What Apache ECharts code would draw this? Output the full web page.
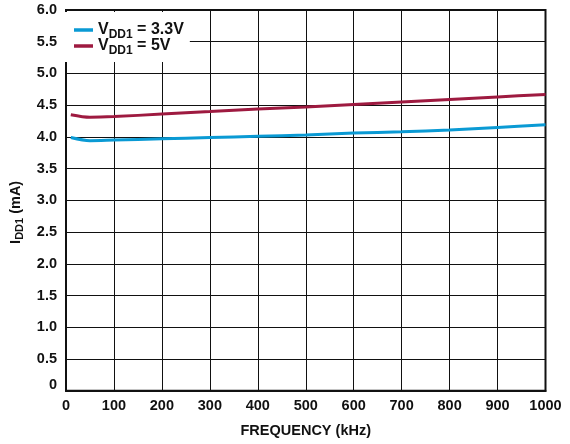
<!DOCTYPE html>
<html>
<head>
<meta charset="utf-8">
<script src="https://cdn.jsdelivr.net/npm/echarts@6/dist/echarts.min.js"></script>
<style>html,body{margin:0;padding:0;background:#fff;}#c{width:570px;height:444px;}</style>
</head>
<body>
<div id="c"></div>
<script>
const freqKHz = [10, 50, 100, 200, 300, 400, 500, 600, 700, 800, 900, 1000];
const idd1_3v3 = [3.99, 3.94, 3.95, 3.97, 3.99, 4.01, 4.03, 4.06, 4.08, 4.11, 4.15, 4.19];
const idd1_5v = [4.35, 4.31, 4.32, 4.36, 4.40, 4.44, 4.47, 4.51, 4.55, 4.59, 4.63, 4.67];
const seriesNames = ['3.3V', '5V'];
const xTicks = [0, 100, 200, 300, 400, 500, 600, 700, 800, 900, 1000];
const yTicks = [0, 0.5, 1.0, 1.5, 2.0, 2.5, 3.0, 3.5, 4.0, 4.5, 5.0, 5.5, 6.0];

const font = 'Arial, "Liberation Sans", sans-serif';
const chart = echarts.init(document.getElementById('c'), null, {renderer: 'canvas'});
const pairs = (ys) => freqKHz.map((f, i) => [f, ys[i]]);

chart.setOption({
  animation: false,
  backgroundColor: '#fff',
  grid: {left: 66, right: 24.5, top: 10, bottom: 53.3, show: true, borderColor: '#111', borderWidth: 2, backgroundColor: 'transparent'},
  legend: {
    orient: 'vertical',
    left: 64,
    top: 12,
    padding: [10, 6, 5, 10],
    itemGap: -3,
    backgroundColor: '#fff',
    icon: 'rect',
    itemWidth: 19,
    itemHeight: 3.5,
    data: seriesNames,
    formatter: (n) => '{v|V}{s|DD1}{v| = ' + n + '}',
    textStyle: {
      fontFamily: font,
      fontWeight: 'bold',
      color: '#111',
      rich: {
        v: {fontSize: 16, fontWeight: 'bold', fontFamily: font, color: '#111', lineHeight: 16, verticalAlign: 'top'},
        s: {fontSize: 12, fontWeight: 'bold', fontFamily: font, color: '#111', lineHeight: 14, padding: [7, 0, 0, 0], verticalAlign: 'top'}
      }
    }
  },
  xAxis: {
    type: 'value',
    min: 0, max: 1000, interval: 100,
    name: 'FREQUENCY (kHz)',
    nameLocation: 'middle',
    nameGap: 33,
    nameTextStyle: {fontFamily: font, fontWeight: 'bold', fontSize: 14.5, color: '#111'},
    axisLine: {show: true, lineStyle: {color: '#111', width: 2}},
    axisTick: {show: false},
    axisLabel: {fontFamily: font, fontWeight: 'bold', fontSize: 14.5, color: '#111', margin: 8,
      formatter: (v) => xTicks.includes(v) ? String(v) : ''},
    splitLine: {show: true, lineStyle: {color: '#111', width: 1}}
  },
  yAxis: {
    type: 'value',
    min: 0, max: 6, interval: 0.5,
    name: '{i|I}{s|DD1}{i| (mA)}',
    nameLocation: 'middle',
    nameGap: 40,
    nameTextStyle: {
      fontFamily: font, fontWeight: 'bold', fontSize: 14, color: '#111',
      padding: [0, 24, 0, 0],
      rich: {
        i: {fontSize: 14.5, fontWeight: 'bold', fontFamily: font, color: '#111', lineHeight: 16, verticalAlign: 'top'},
        s: {fontSize: 11, fontWeight: 'bold', fontFamily: font, color: '#111', lineHeight: 16, padding: [6, 0, 0, 0], verticalAlign: 'top'}
      }
    },
    axisLine: {show: true, lineStyle: {color: '#111', width: 2}},
    axisTick: {show: false},
    axisLabel: {fontFamily: font, fontWeight: 'bold', fontSize: 14.5, color: '#111', margin: 9,
      formatter: (v) => yTicks.includes(v) ? (v === 0 ? '{z|0}' : v.toFixed(1)) : '',
      rich: {z: {fontFamily: font, fontWeight: 'bold', fontSize: 14.5, color: '#111', padding: [0, 0, 12, 0]}}
    },
    splitLine: {show: true, lineStyle: {color: '#111', width: 1}}
  },
  series: [
    {name: seriesNames[0], type: 'line', data: pairs(idd1_3v3), smooth: 0.3, showSymbol: false,
      lineStyle: {color: '#0a9ad4', width: 3}, itemStyle: {color: '#0a9ad4'}, z: 3},
    {name: seriesNames[1], type: 'line', data: pairs(idd1_5v), smooth: 0.3, showSymbol: false,
      lineStyle: {color: '#9e1a40', width: 3}, itemStyle: {color: '#9e1a40'}, z: 3}
  ]
});
</script>
</body>
</html>
